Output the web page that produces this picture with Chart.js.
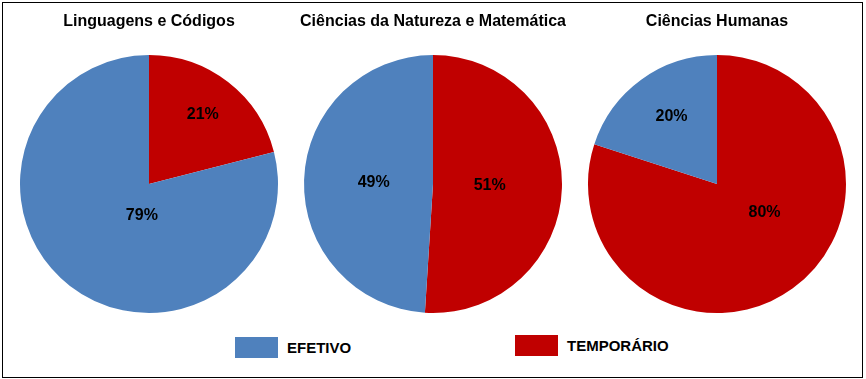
<!DOCTYPE html>
<html>
<head>
<meta charset="utf-8">
<script src="https://cdn.jsdelivr.net/npm/chart.js@4"></script>
<style>
    body { margin: 0; background: #fff; font-family: "Liberation Sans", Arial, sans-serif; }
    #frame { position: absolute; left: 2px; top: 2px; width: 859px; height: 374px; border: 1px solid #000; }
    .pie { position: absolute; top: 0; }
    .legend-item { position: absolute; display: flex; align-items: center; font-weight: bold; font-size: 15px; color: #000; }
    .legend-box { width: 43px; height: 21px; margin-right: 9px; }
</style>
</head>
<body>
<div id="frame"></div>
<canvas id="pie0" class="pie" width="280" height="330" style="left:9px"></canvas>
<canvas id="pie1" class="pie" width="280" height="330" style="left:293px"></canvas>
<canvas id="pie2" class="pie" width="280" height="330" style="left:577px"></canvas>
<div id="legend"></div>

<script>
/* --- Data --- */
const areas = ['Linguagens e Códigos', 'Ciências da Natureza e Matemática', 'Ciências Humanas'];
const categories = ['TEMPORÁRIO', 'EFETIVO'];
const temporario = [21, 51, 80];
const efetivo = [79, 49, 20];
const colors = ['#C00000', '#4F81BD'];

// label placement per slice: angle shift from the slice middle (deg) and radius fraction
const labelPlaces = [
    [{ shift: 0, r: 0.68 }, { shift: -25, r: 0.25 }],
    [{ shift: 0, r: 0.44 }, { shift: 0, r: 0.46 }],
    [{ shift: -23, r: 0.43 }, { shift: 2, r: 0.63 }]
];

/* --- Percentage labels inside the slices --- */
const sliceLabels = {
    id: 'sliceLabels',
    afterDatasetsDraw(chart, args, opts) {
        const { ctx } = chart;
        const values = chart.data.datasets[0].data;
        chart.getDatasetMeta(0).data.forEach((arc, i) => {
            const { x, y, startAngle, endAngle, outerRadius } =
                arc.getProps(['x', 'y', 'startAngle', 'endAngle', 'outerRadius'], true);
            const place = opts.places[i];
            const mid = (startAngle + endAngle) / 2 + place.shift * Math.PI / 180;
            const r = outerRadius * place.r;
            ctx.save();
            ctx.font = 'bold 16px "Liberation Sans", Arial, sans-serif';
            ctx.fillStyle = '#000';
            ctx.textAlign = 'center';
            ctx.textBaseline = 'middle';
            ctx.fillText(values[i] + '%', x + Math.cos(mid) * r, y + Math.sin(mid) * r);
            ctx.restore();
        });
    }
};

/* --- Charts --- */
areas.forEach((area, idx) => {
    const ctx = document.getElementById('pie' + idx).getContext('2d');
    new Chart(ctx, {
        type: 'pie',
        data: {
            labels: categories,
            datasets: [{
                data: [temporario[idx], efetivo[idx]],
                backgroundColor: colors,
                borderWidth: 0
            }]
        },
        options: {
            responsive: false,
            animation: false,
            layout: { padding: { bottom: 17 } },
            plugins: {
                legend: { display: false },
                tooltip: { enabled: false },
                title: {
                    display: true,
                    text: area,
                    color: '#000',
                    font: { family: '"Liberation Sans", Arial, sans-serif', size: 16, weight: 'bold' },
                    padding: { top: 12, bottom: 23.8 }
                },
                sliceLabels: { places: labelPlaces[idx] }
            }
        },
        plugins: [sliceLabels]
    });
});

/* --- Legend --- */
const legendSpots = [{ left: 235, top: 337 }, { left: 515, top: 335 }];
const legendOrder = [1, 0];
const legend = document.getElementById('legend');
legendOrder.forEach((c, k) => {
    const item = document.createElement('div');
    item.className = 'legend-item';
    item.style.left = legendSpots[k].left + 'px';
    item.style.top = legendSpots[k].top + 'px';
    item.innerHTML = `<span class="legend-box" style="background:${colors[c]}"></span>${categories[c]}`;
    legend.appendChild(item);
});
</script>
</body>
</html>
